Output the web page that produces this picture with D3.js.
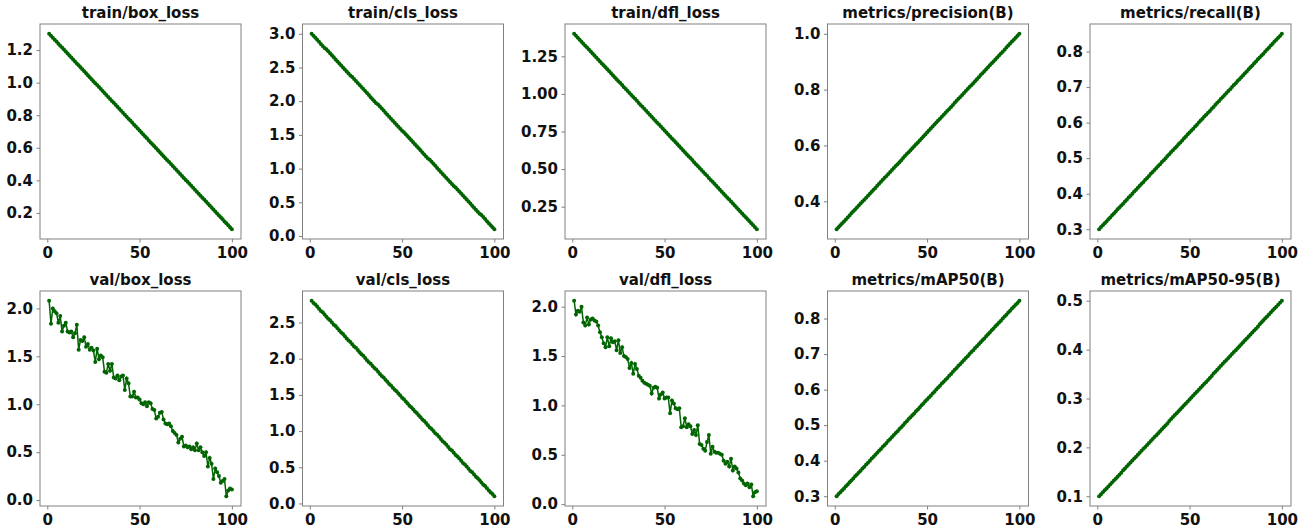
<!DOCTYPE html>
<html>
<head>
<meta charset="utf-8">
<script src="https://cdn.jsdelivr.net/npm/d3@7"></script>
<style>
  body { margin: 0; background: #fff; }
  svg { display: block; font-family: "DejaVu Sans", sans-serif; }
</style>
</head>
<body>
<svg id="results" width="1312" height="528"></svg>
<script>
// epochs 1..100 on the x axis
const epochs = d3.range(1, 101);

const trainBoxLoss = [
  1.300,1.288,1.276,1.264,1.252,1.239,1.227,1.215,1.203,1.191,
  1.179,1.167,1.155,1.142,1.130,1.118,1.106,1.094,1.082,1.070,
  1.058,1.045,1.033,1.021,1.009,0.997,0.985,0.973,0.961,0.948,
  0.936,0.924,0.912,0.900,0.888,0.876,0.864,0.852,0.839,0.827,
  0.815,0.803,0.791,0.779,0.767,0.755,0.742,0.730,0.718,0.706,
  0.694,0.682,0.670,0.658,0.645,0.633,0.621,0.609,0.597,0.585,
  0.573,0.561,0.548,0.536,0.524,0.512,0.500,0.488,0.476,0.464,
  0.452,0.439,0.427,0.415,0.403,0.391,0.379,0.367,0.355,0.342,
  0.330,0.318,0.306,0.294,0.282,0.270,0.258,0.245,0.233,0.221,
  0.209,0.197,0.185,0.173,0.161,0.148,0.136,0.124,0.112,0.100
];
const trainClsLoss = [
  3.00,2.97,2.94,2.91,2.88,2.85,2.82,2.79,2.77,2.74,
  2.71,2.68,2.65,2.62,2.59,2.56,2.53,2.50,2.47,2.44,
  2.41,2.38,2.36,2.33,2.30,2.27,2.24,2.21,2.18,2.15,
  2.12,2.09,2.06,2.03,2.00,1.97,1.95,1.92,1.89,1.86,
  1.83,1.80,1.77,1.74,1.71,1.68,1.65,1.62,1.59,1.56,
  1.54,1.51,1.48,1.45,1.42,1.39,1.36,1.33,1.30,1.27,
  1.24,1.21,1.18,1.15,1.13,1.10,1.07,1.04,1.01,0.98,
  0.95,0.92,0.89,0.86,0.83,0.80,0.77,0.74,0.72,0.69,
  0.66,0.63,0.60,0.57,0.54,0.51,0.48,0.45,0.42,0.39,
  0.36,0.33,0.31,0.28,0.25,0.22,0.19,0.16,0.13,0.10
];
const trainDflLoss = [
  1.400,1.387,1.374,1.361,1.347,1.334,1.321,1.308,1.295,1.282,
  1.269,1.256,1.242,1.229,1.216,1.203,1.190,1.177,1.164,1.151,
  1.137,1.124,1.111,1.098,1.085,1.072,1.059,1.045,1.032,1.019,
  1.006,0.993,0.980,0.967,0.954,0.940,0.927,0.914,0.901,0.888,
  0.875,0.862,0.848,0.835,0.822,0.809,0.796,0.783,0.770,0.757,
  0.743,0.730,0.717,0.704,0.691,0.678,0.665,0.652,0.638,0.625,
  0.612,0.599,0.586,0.573,0.560,0.546,0.533,0.520,0.507,0.494,
  0.481,0.468,0.455,0.441,0.428,0.415,0.402,0.389,0.376,0.363,
  0.349,0.336,0.323,0.310,0.297,0.284,0.271,0.258,0.244,0.231,
  0.218,0.205,0.192,0.179,0.166,0.153,0.139,0.126,0.113,0.100
];
const precisionB = [
  0.300,0.307,0.314,0.321,0.328,0.335,0.342,0.349,0.357,0.364,
  0.371,0.378,0.385,0.392,0.399,0.406,0.413,0.420,0.427,0.434,
  0.441,0.448,0.456,0.463,0.470,0.477,0.484,0.491,0.498,0.505,
  0.512,0.519,0.526,0.533,0.540,0.547,0.555,0.562,0.569,0.576,
  0.583,0.590,0.597,0.604,0.611,0.618,0.625,0.632,0.639,0.646,
  0.654,0.661,0.668,0.675,0.682,0.689,0.696,0.703,0.710,0.717,
  0.724,0.731,0.738,0.745,0.753,0.760,0.767,0.774,0.781,0.788,
  0.795,0.802,0.809,0.816,0.823,0.830,0.837,0.844,0.852,0.859,
  0.866,0.873,0.880,0.887,0.894,0.901,0.908,0.915,0.922,0.929,
  0.936,0.943,0.951,0.958,0.965,0.972,0.979,0.986,0.993,1.000
];
const recallB = [
  0.300,0.306,0.311,0.317,0.322,0.328,0.333,0.339,0.344,0.350,
  0.356,0.361,0.367,0.372,0.378,0.383,0.389,0.394,0.400,0.406,
  0.411,0.417,0.422,0.428,0.433,0.439,0.444,0.450,0.456,0.461,
  0.467,0.472,0.478,0.483,0.489,0.494,0.500,0.506,0.511,0.517,
  0.522,0.528,0.533,0.539,0.544,0.550,0.556,0.561,0.567,0.572,
  0.578,0.583,0.589,0.594,0.600,0.606,0.611,0.617,0.622,0.628,
  0.633,0.639,0.644,0.650,0.656,0.661,0.667,0.672,0.678,0.683,
  0.689,0.694,0.700,0.706,0.711,0.717,0.722,0.728,0.733,0.739,
  0.744,0.750,0.756,0.761,0.767,0.772,0.778,0.783,0.789,0.794,
  0.800,0.806,0.811,0.817,0.822,0.828,0.833,0.839,0.844,0.850
];
const valBoxLoss = [
  2.08,1.84,2.00,1.97,1.95,1.85,1.92,1.76,1.82,1.85,
  1.76,1.75,1.76,1.70,1.74,1.83,1.57,1.67,1.66,1.70,
  1.60,1.63,1.57,1.59,1.56,1.44,1.58,1.47,1.51,1.49,
  1.34,1.33,1.42,1.35,1.42,1.28,1.27,1.30,1.25,1.29,
  1.30,1.15,1.27,1.22,1.08,1.08,1.13,1.07,1.07,1.05,
  1.01,1.00,1.02,0.98,1.02,1.01,0.95,0.94,0.85,0.87,
  0.91,0.92,0.84,0.80,0.79,0.80,0.77,0.72,0.70,0.68,
  0.60,0.64,0.66,0.56,0.57,0.55,0.56,0.53,0.55,0.52,
  0.59,0.52,0.55,0.50,0.46,0.50,0.35,0.44,0.38,0.22,
  0.33,0.29,0.25,0.18,0.20,0.22,0.04,0.10,0.12,0.11
];
const valClsLoss = [
  2.80,2.77,2.75,2.72,2.69,2.66,2.64,2.61,2.58,2.55,
  2.53,2.50,2.47,2.45,2.42,2.39,2.36,2.34,2.31,2.28,
  2.25,2.23,2.20,2.17,2.15,2.12,2.09,2.06,2.04,2.01,
  1.98,1.95,1.93,1.90,1.87,1.85,1.82,1.79,1.76,1.74,
  1.71,1.68,1.65,1.63,1.60,1.57,1.55,1.52,1.49,1.46,
  1.44,1.41,1.38,1.35,1.33,1.30,1.27,1.25,1.22,1.19,
  1.16,1.14,1.11,1.08,1.05,1.03,1.00,0.97,0.95,0.92,
  0.89,0.86,0.84,0.81,0.78,0.75,0.73,0.70,0.67,0.65,
  0.62,0.59,0.56,0.54,0.51,0.48,0.45,0.43,0.40,0.37,
  0.35,0.32,0.29,0.26,0.24,0.21,0.18,0.15,0.13,0.10
];
const valDflLoss = [
  2.06,1.92,1.96,1.95,2.00,1.84,1.81,1.89,1.82,1.87,
  1.88,1.86,1.85,1.81,1.74,1.69,1.63,1.59,1.69,1.60,
  1.68,1.64,1.65,1.56,1.66,1.53,1.59,1.50,1.49,1.47,
  1.38,1.43,1.32,1.42,1.37,1.30,1.28,1.25,1.23,1.22,
  1.21,1.20,1.12,1.18,1.19,1.18,1.07,1.11,1.13,1.07,
  1.08,1.08,0.92,1.05,1.02,0.97,0.96,0.97,0.78,0.79,
  0.87,0.78,0.81,0.79,0.71,0.75,0.70,0.80,0.61,0.60,
  0.56,0.54,0.63,0.70,0.51,0.58,0.53,0.52,0.52,0.51,
  0.50,0.44,0.41,0.43,0.38,0.46,0.34,0.38,0.36,0.32,
  0.26,0.24,0.21,0.19,0.21,0.17,0.20,0.08,0.12,0.13
];
const mAP50B = [
  0.300,0.306,0.311,0.317,0.322,0.328,0.333,0.339,0.344,0.350,
  0.356,0.361,0.367,0.372,0.378,0.383,0.389,0.394,0.400,0.406,
  0.411,0.417,0.422,0.428,0.433,0.439,0.444,0.450,0.456,0.461,
  0.467,0.472,0.478,0.483,0.489,0.494,0.500,0.506,0.511,0.517,
  0.522,0.528,0.533,0.539,0.544,0.550,0.556,0.561,0.567,0.572,
  0.578,0.583,0.589,0.594,0.600,0.606,0.611,0.617,0.622,0.628,
  0.633,0.639,0.644,0.650,0.656,0.661,0.667,0.672,0.678,0.683,
  0.689,0.694,0.700,0.706,0.711,0.717,0.722,0.728,0.733,0.739,
  0.744,0.750,0.756,0.761,0.767,0.772,0.778,0.783,0.789,0.794,
  0.800,0.806,0.811,0.817,0.822,0.828,0.833,0.839,0.844,0.850
];
const mAP5095B = [
  0.100,0.104,0.108,0.112,0.116,0.120,0.124,0.128,0.132,0.136,
  0.140,0.144,0.148,0.153,0.157,0.161,0.165,0.169,0.173,0.177,
  0.181,0.185,0.189,0.193,0.197,0.201,0.205,0.209,0.213,0.217,
  0.221,0.225,0.229,0.233,0.237,0.241,0.245,0.249,0.254,0.258,
  0.262,0.266,0.270,0.274,0.278,0.282,0.286,0.290,0.294,0.298,
  0.302,0.306,0.310,0.314,0.318,0.322,0.326,0.330,0.334,0.338,
  0.342,0.346,0.351,0.355,0.359,0.363,0.367,0.371,0.375,0.379,
  0.383,0.387,0.391,0.395,0.399,0.403,0.407,0.411,0.415,0.419,
  0.423,0.427,0.431,0.435,0.439,0.443,0.447,0.452,0.456,0.460,
  0.464,0.468,0.472,0.476,0.480,0.484,0.488,0.492,0.496,0.500
];

const titles = [
  'train/box_loss', 'train/cls_loss', 'train/dfl_loss', 'metrics/precision(B)', 'metrics/recall(B)',
  'val/box_loss', 'val/cls_loss', 'val/dfl_loss', 'metrics/mAP50(B)', 'metrics/mAP50-95(B)'
];
const series = [
  trainBoxLoss, trainClsLoss, trainDflLoss, precisionB, recallB,
  valBoxLoss, valClsLoss, valDflLoss, mAP50B, mAP5095B
];
const yTicks = [
  [0.2, 0.4, 0.6, 0.8, 1.0, 1.2],
  [0.0, 0.5, 1.0, 1.5, 2.0, 2.5, 3.0],
  [0.25, 0.50, 0.75, 1.00, 1.25],
  [0.4, 0.6, 0.8, 1.0],
  [0.3, 0.4, 0.5, 0.6, 0.7, 0.8],
  [0.0, 0.5, 1.0, 1.5, 2.0],
  [0.0, 0.5, 1.0, 1.5, 2.0, 2.5],
  [0.0, 0.5, 1.0, 1.5, 2.0],
  [0.3, 0.4, 0.5, 0.6, 0.7, 0.8],
  [0.1, 0.2, 0.3, 0.4, 0.5]
];
const yFormats = ['.1f', '.1f', '.2f', '.1f', '.1f', '.1f', '.1f', '.1f', '.1f', '.1f'];
const xTicks = [0, 50, 100];

const svg = d3.select('#results');
const colLeft = [40, 302.5, 565, 827.5, 1090];
const rowTop = [24, 291];
const pw = 201, ph = 215;
const green = '#006400';
const spine = '#808080';

// matplotlib style 5% margins
const padded = ext => {
  const m = (ext[1] - ext[0]) * 0.05;
  return [ext[0] - m, ext[1] + m];
};

const xScale = d3.scaleLinear().domain(padded(d3.extent(epochs))).range([0, pw]);

series.forEach((vals, k) => {
  const g = svg.append('g')
    .attr('transform', `translate(${colLeft[k % 5]}, ${rowTop[Math.floor(k / 5)]})`);

  const yScale = d3.scaleLinear().domain(padded(d3.extent(vals))).range([ph, 0]);
  const data = vals.map((v, i) => ({ x: epochs[i], y: v }));

  const xAxis = g.append('g').attr('transform', `translate(0, ${ph})`)
    .call(d3.axisBottom(xScale).tickValues(xTicks).tickSize(3.5).tickPadding(5));
  const yAxis = g.append('g')
    .call(d3.axisLeft(yScale).tickValues(yTicks[k]).tickFormat(d3.format(yFormats[k])).tickSize(3.5).tickPadding(3.5));

  [xAxis, yAxis].forEach(a => {
    a.select('.domain').remove();
    a.selectAll('.tick line').attr('stroke', spine);
    a.selectAll('.tick text')
      .attr('font-family', '"DejaVu Sans", sans-serif')
      .attr('font-size', 15)
      .attr('font-weight', 'bold')
      .attr('fill', '#111');
  });

  const line = d3.line().x(d => xScale(d.x)).y(d => yScale(d.y));
  g.append('path').datum(data)
    .attr('fill', 'none').attr('stroke', green).attr('stroke-width', 1.5)
    .attr('d', line);
  g.selectAll('circle').data(data).enter().append('circle')
    .attr('cx', d => xScale(d.x)).attr('cy', d => yScale(d.y))
    .attr('r', 2).attr('fill', green);

  g.append('rect').attr('x', 0).attr('y', 0).attr('width', pw).attr('height', ph)
    .attr('fill', 'none').attr('stroke', spine).attr('stroke-width', 1);

  g.append('text').attr('x', pw / 2).attr('y', -6)
    .attr('text-anchor', 'middle')
    .attr('font-size', 15).attr('font-weight', 'bold').attr('fill', '#111')
    .text(titles[k]);
});
</script>
</body>
</html>
